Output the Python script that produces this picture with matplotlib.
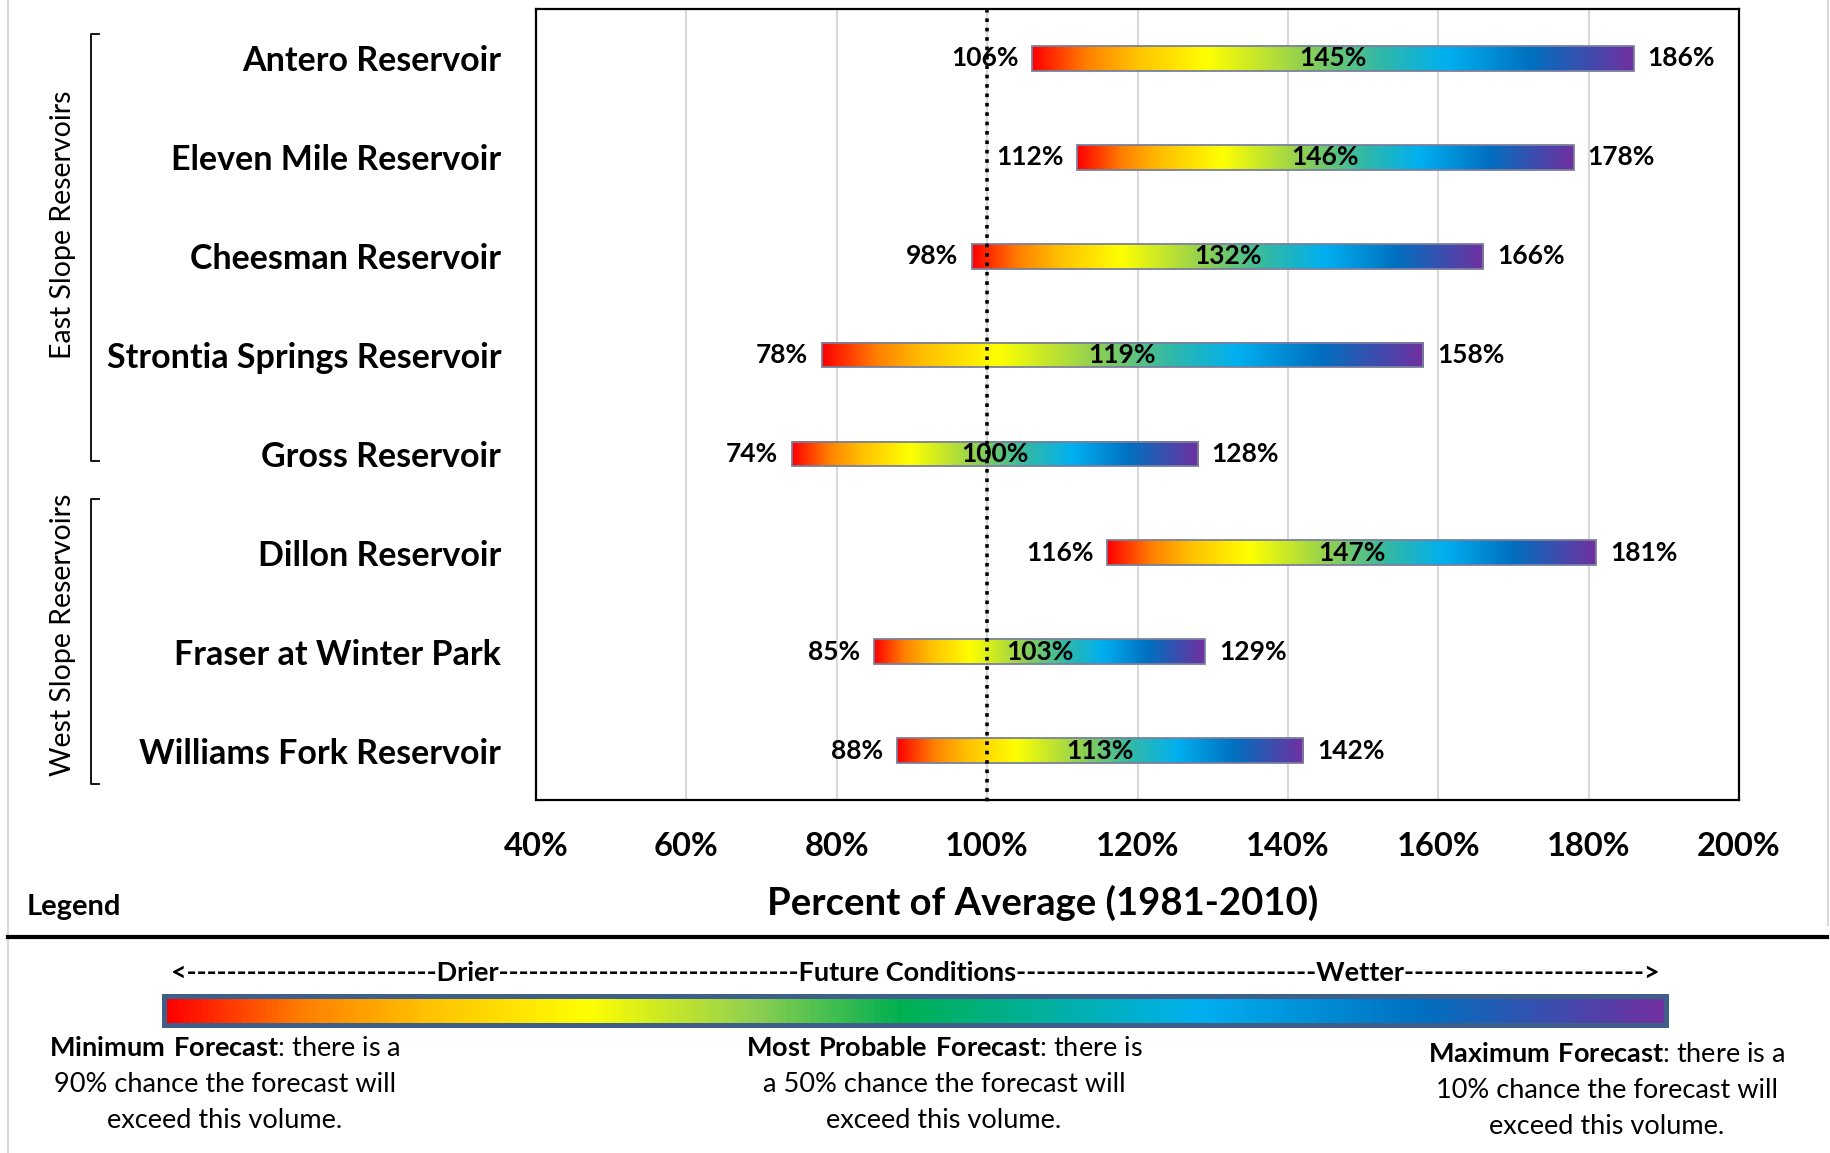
import numpy as np
import matplotlib
matplotlib.use('Agg')
from matplotlib import pyplot as plt
from matplotlib.colors import LinearSegmentedColormap
from matplotlib.patches import Rectangle
from matplotlib.lines import Line2D

plt.rcParams['font.family'] = ['Lato', 'DejaVu Sans']
plt.rcParams['mathtext.fontset'] = 'custom'
plt.rcParams['mathtext.rm'] = 'Lato'
plt.rcParams['mathtext.bf'] = 'Lato:bold'

# forecast data (percent of 1981-2010 average)
reservoirs = ['Antero Reservoir', 'Eleven Mile Reservoir', 'Cheesman Reservoir',
              'Strontia Springs Reservoir', 'Gross Reservoir', 'Dillon Reservoir',
              'Fraser at Winter Park', 'Williams Fork Reservoir']
min_fc = [106, 112, 98, 78, 74, 116, 85, 88]
most_fc = [145, 146, 132, 119, 100, 147, 103, 113]
max_fc = [186, 178, 166, 158, 128, 181, 129, 142]
x_ticks = [40, 60, 80, 100, 120, 140, 160, 180, 200]
groups = ['East Slope Reservoirs', 'West Slope Reservoirs']

legend_left = [r'$\mathbf{Minimum\ Forecast}$: there is a', '90% chance the forecast will', 'exceed this volume.']
legend_mid = [r'$\mathbf{Most\ Probable\ Forecast}$: there is', 'a 50% chance the forecast will', 'exceed this volume.']
legend_right = [r'$\mathbf{Maximum\ Forecast}$: there is a', '10% chance the forecast will', 'exceed this volume.']
arrow_txt = '<' + '-' * 25 + 'Drier' + '-' * 30 + 'Future Conditions' + '-' * 30 + 'Wetter' + '-' * 24 + '>'

# legend gradient
cols = ['#FF0000', '#FF8000', '#FFC000', '#FFFF00', '#92D050', '#00B050', '#00B0F0', '#0070C0', '#7030A0']
pos = [0.0, 0.09, 0.17, 0.28, 0.39, 0.49, 0.69, 0.84, 1.0]
cmap = LinearSegmentedColormap.from_list('fc', list(zip(pos, cols)))
# bar gradient (softer green in the middle)
bcols = ['#FF0000', '#FF8000', '#FFC000', '#FFFF00', '#92D050', '#30B8A8', '#00B0F0', '#0070C0', '#7030A0']
bpos = [0.0, 0.09, 0.17, 0.29, 0.45, 0.58, 0.69, 0.83, 1.0]
bcmap = LinearSegmentedColormap.from_list('bar', list(zip(bpos, bcols)))
grad = np.linspace(0, 1, 256).reshape(1, -1)

W, H = 1831, 1153
def fx(px):
    return px / W
def fy(py):
    return 1 - py / H

fig = plt.figure(figsize=(W / 100, H / 100), dpi=100)
ax = fig.add_axes([fx(536), fy(800), (1739 - 536) / W, (800 - 9) / H])

n = len(reservoirs)
bh = 0.25
for i in range(n):
    lo, hi = min_fc[i], max_fc[i]
    ax.imshow(grad, extent=[lo, hi, i + bh / 2, i - bh / 2], cmap=bcmap, aspect='auto',
              interpolation='bilinear', zorder=2)
    ax.add_patch(Rectangle((lo, i - bh / 2), hi - lo, bh, fill=False, ec='#7A7F9E', lw=1.3, zorder=3))
    ax.annotate(f'{lo}%', (lo, i), xytext=(-10, 0), textcoords='offset points',
                ha='right', va='center', fontsize=19, fontweight='bold', zorder=4)
    ax.annotate(f'{max_fc[i]}%', (hi, i), xytext=(10, 0), textcoords='offset points',
                ha='left', va='center', fontsize=19, fontweight='bold', zorder=4)
    ax.text((lo + hi) / 2, i, f'{most_fc[i]}%', ha='center', va='center',
            fontsize=19, fontweight='bold', zorder=4)

ax.plot([100, 100], [-0.5, n - 0.5 + 0.075], color='black', lw=2.6, ls=(0, (1, 1.6)),
        zorder=6, clip_on=False, dash_capstyle='butt')

ax.set_xlim(40, 200)
ax.set_ylim(n - 0.5, -0.5)
ax.set_xticks(x_ticks)
ax.set_xticklabels([f'{t}%' for t in x_ticks], fontweight='bold', fontsize=23.5)
ax.set_yticks(range(n))
ax.set_yticklabels(reservoirs, fontweight='bold', fontsize=24.5)
ax.tick_params(axis='x', length=0, pad=23)
ax.tick_params(axis='y', length=0, pad=25)
ax.set_axisbelow(True)
ax.xaxis.grid(True, color='#D9D9D9', lw=1.5)
for s in ax.spines.values():
    s.set_linewidth(1.6)
    s.set_color('black')

fig.text(fx(1043), fy(903), 'Percent of Average (1981-2010)', ha='center', va='center',
         fontsize=27.5, fontweight='bold')

# group brackets
for top, bot, lab, yc in [(34, 461, groups[0], 225), (499, 784, groups[1], 635)]:
    fig.add_artist(Line2D([fx(99), fx(91), fx(91), fx(99)], [fy(top), fy(top), fy(bot), fy(bot)],
                          color='black', lw=1.3))
    fig.text(fx(63), fy(yc), lab, rotation=90, ha='center', va='center', fontsize=20.5)

# page borders and separator
fig.add_artist(Line2D([fx(8), fx(8)], [0, 1], color='#D9D9D9', lw=1.5))
fig.add_artist(Line2D([fx(1828), fx(1828)], [fy(925), 1], color='#D9D9D9', lw=1.5))
fig.add_artist(Line2D([fx(8), fx(1827)], [fy(937), fy(937)], color='black', lw=3))

# legend
fig.text(fx(27), fy(907), 'Legend', ha='left', va='center', fontsize=21, fontweight='bold')
fig.text(fx(915), fy(973), arrow_txt, ha='center', va='center', fontsize=19.5, fontweight='bold')

lax = fig.add_axes([fx(164.5), fy(1024.5), (1666.5 - 164.5) / W, (1024.5 - 995.5) / H])
lax.imshow(grad, cmap=cmap, aspect='auto', extent=[0, 1, 0, 1], interpolation='bilinear')
lax.set_xticks([])
lax.set_yticks([])
for s in lax.spines.values():
    s.set_linewidth(3.6)
    s.set_color('#3E5F8A')

for xc, y0, lines in [(225, 1049, legend_left), (944, 1049, legend_mid), (1607, 1054, legend_right)]:
    for k, line in enumerate(lines):
        fig.text(fx(xc), fy(y0 + 36 * k), line, ha='center', va='center', fontsize=19.5)

plt.savefig('out.png', dpi=100)
